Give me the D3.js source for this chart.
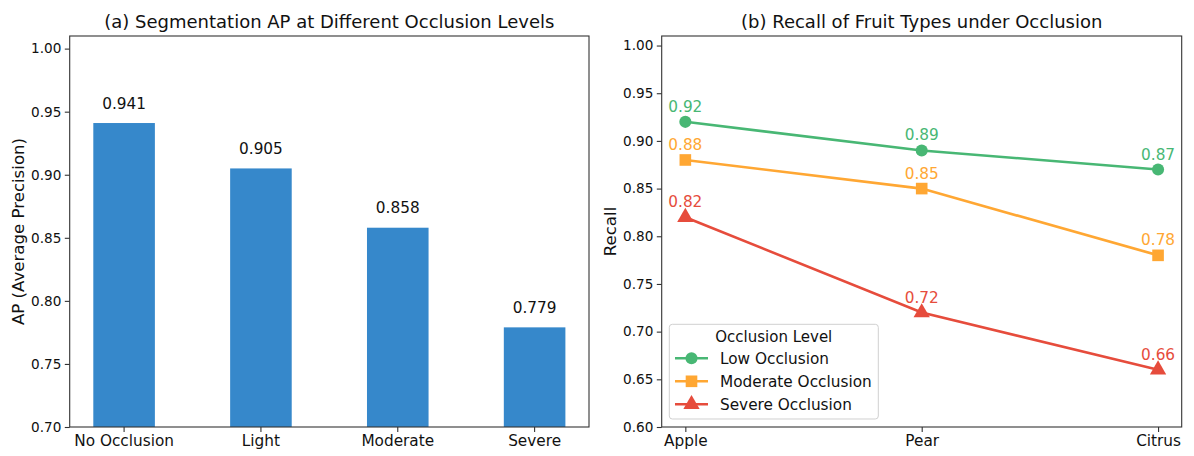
<!DOCTYPE html>
<html>
<head>
<meta charset="utf-8">
<script src="https://cdn.jsdelivr.net/npm/d3@7"></script>
<style>
  body { margin: 0; background: #fff; }
  text { font-family: "DejaVu Sans", sans-serif; fill: #111; }
</style>
</head>
<body>
<svg id="chart" width="1194" height="456"></svg>
<script>
// (a) bar panel
var levels = ["No Occlusion", "Light", "Moderate", "Severe"];
var apValues = [0.941, 0.905, 0.858, 0.779];
var apTicks = [0.70, 0.75, 0.80, 0.85, 0.90, 0.95, 1.00];

// (b) line panel
var fruits = ["Apple", "Pear", "Citrus"];
var seriesNames = ["Low Occlusion", "Moderate Occlusion", "Severe Occlusion"];
var lowRecall = [0.92, 0.89, 0.87];
var moderateRecall = [0.88, 0.85, 0.78];
var severeRecall = [0.82, 0.72, 0.66];
var recallTicks = [0.60, 0.65, 0.70, 0.75, 0.80, 0.85, 0.90, 0.95, 1.00];

var barColor = "#3688cb";
var seriesColors = ["#48b774", "#ffa733", "#e64c3c"];
var seriesShapes = [d3.symbolCircle, d3.symbolSquare, d3.symbolTriangle];
var seriesSizes = [115, 135, 115];

var svg = d3.select("#chart");
var top_ = 36, bottom = 427;

function frame(g, x0, x1) {
  g.append("rect")
    .attr("x", x0).attr("y", top_)
    .attr("width", x1 - x0).attr("height", bottom - top_)
    .attr("fill", "none").attr("stroke", "#333").attr("stroke-width", 1.1);
}

function styleAxis(g, size) {
  g.select(".domain").remove();
  g.selectAll(".tick line").attr("stroke", "#333").attr("stroke-width", 1.1);
  g.selectAll(".tick text")
    .style("font-family", "DejaVu Sans")
    .style("font-size", size + "px")
    .attr("fill", "#111");
}

// ---------- panel (a) ----------
var ax = {x0: 69.7, x1: 589};
var xa = d3.scaleBand().domain(levels).range([ax.x0, ax.x1])
  .paddingInner(0.55).paddingOuter(0.1725);
var ya = d3.scaleLinear().domain([0.70, 1.01]).range([bottom, top_]);

var ga = svg.append("g");
ga.selectAll("rect.bar")
  .data(levels)
  .enter().append("rect")
  .attr("class", "bar")
  .attr("x", d => xa(d))
  .attr("y", (d, i) => ya(apValues[i]))
  .attr("width", xa.bandwidth())
  .attr("height", (d, i) => bottom - ya(apValues[i]))
  .attr("fill", barColor);

ga.selectAll("text.val")
  .data(levels)
  .enter().append("text")
  .attr("class", "val")
  .attr("x", d => xa(d) + xa.bandwidth() / 2)
  .attr("y", (d, i) => ya(apValues[i]) - 14.5)
  .attr("text-anchor", "middle")
  .style("font-size", "15.3px")
  .text((d, i) => d3.format(".3f")(apValues[i]));

ga.append("g").attr("transform", "translate(" + ax.x0 + ",0)")
  .call(d3.axisLeft(ya).tickValues(apTicks).tickFormat(d3.format(".2f"))
    .tickSize(4.9).tickPadding(3.5))
  .call(g => styleAxis(g, 13.6));

ga.append("g").attr("transform", "translate(0," + bottom + ")")
  .call(d3.axisBottom(xa).tickSize(4.9).tickPadding(3))
  .call(g => styleAxis(g, 15.3));

frame(ga, ax.x0, ax.x1);

ga.append("text")
  .attr("x", (ax.x0 + ax.x1) / 2).attr("y", 27.5)
  .attr("text-anchor", "middle")
  .style("font-size", "18px")
  .text("(a) Segmentation AP at Different Occlusion Levels");

ga.append("text")
  .attr("transform", "translate(23.5," + (top_ + bottom) / 2 + ") rotate(-90)")
  .attr("text-anchor", "middle")
  .style("font-size", "16.6px")
  .text("AP (Average Precision)");

// ---------- panel (b) ----------
var bx = {x0: 661.7, x1: 1181.7};
var xb = d3.scalePoint().domain(fruits).range([bx.x0, bx.x1]).padding(0.1);
var yb = d3.scaleLinear().domain([0.60, 1.01]).range([bottom, top_]);
var series = [lowRecall, moderateRecall, severeRecall];

var gb = svg.append("g");
var line = d3.line().x((d, i) => xb(fruits[i])).y(d => yb(d));

series.forEach(function(vals, s) {
  var g = gb.append("g");
  g.append("path")
    .attr("d", line(vals))
    .attr("fill", "none")
    .attr("stroke", seriesColors[s])
    .attr("stroke-width", 2.6);
  g.selectAll("path.mk")
    .data(vals)
    .enter().append("path")
    .attr("class", "mk")
    .attr("transform", (d, i) => "translate(" + xb(fruits[i]) + "," + yb(d) + ")")
    .attr("d", d3.symbol().type(seriesShapes[s]).size(seriesSizes[s]))
    .attr("fill", seriesColors[s]);
  g.selectAll("text.lab")
    .data(vals)
    .enter().append("text")
    .attr("class", "lab")
    .attr("x", (d, i) => xb(fruits[i]))
    .attr("y", d => yb(d) - 10)
    .attr("text-anchor", "middle")
    .style("font-size", "15.3px")
    .style("fill", seriesColors[s])
    .text(d => d3.format(".2f")(d));
});

gb.append("g").attr("transform", "translate(" + bx.x0 + ",0)")
  .call(d3.axisLeft(yb).tickValues(recallTicks).tickFormat(d3.format(".2f"))
    .tickSize(4.9).tickPadding(3.5))
  .call(g => styleAxis(g, 13.6));

gb.append("g").attr("transform", "translate(0," + bottom + ")")
  .call(d3.axisBottom(xb).tickSize(4.9).tickPadding(3))
  .call(g => styleAxis(g, 15.3));

frame(gb, bx.x0, bx.x1);

gb.append("text")
  .attr("x", (bx.x0 + bx.x1) / 2).attr("y", 27.5)
  .attr("text-anchor", "middle")
  .style("font-size", "18px")
  .text("(b) Recall of Fruit Types under Occlusion");

gb.append("text")
  .attr("transform", "translate(615.5," + (top_ + bottom) / 2 + ") rotate(-90)")
  .attr("text-anchor", "middle")
  .style("font-size", "16.6px")
  .text("Recall");

// legend
var lg = gb.append("g").attr("transform", "translate(669.3,324.3)");
lg.append("rect")
  .attr("width", 209).attr("height", 94.7)
  .attr("rx", 3)
  .attr("fill", "#fff").attr("fill-opacity", 0.8)
  .attr("stroke", "#d0d0d0").attr("stroke-width", 1);
lg.append("text")
  .attr("x", 104.5).attr("y", 18.2)
  .attr("text-anchor", "middle")
  .style("font-size", "15px")
  .text("Occlusion Level");
seriesNames.forEach(function(name, s) {
  var yy = 34 + s * 23;
  lg.append("line")
    .attr("x1", 5.7).attr("x2", 38.7).attr("y1", yy).attr("y2", yy)
    .attr("stroke", seriesColors[s]).attr("stroke-width", 2.6);
  lg.append("path")
    .attr("transform", "translate(22.2," + yy + ")")
    .attr("d", d3.symbol().type(seriesShapes[s]).size(seriesSizes[s]))
    .attr("fill", seriesColors[s]);
  lg.append("text")
    .attr("x", 50.7).attr("y", yy + 5.3)
    .style("font-size", "15.3px")
    .text(name);
});
</script>
</body>
</html>
